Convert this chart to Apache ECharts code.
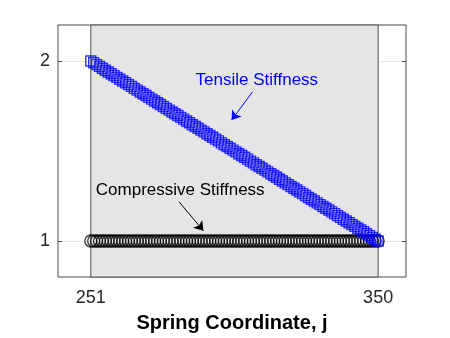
<!DOCTYPE html>
<html>
<head>
<meta charset="utf-8">
<script src="https://cdn.jsdelivr.net/npm/echarts@6/dist/echarts.min.js"></script>
<style>
  html, body { margin: 0; padding: 0; background: #fff; }
  #chart { width: 450px; height: 338px; }
</style>
</head>
<body>
<div id="chart"></div>
<script>
// spring coordinate j
const springIndex = [
  251,252,253,254,255,256,257,258,259,260,261,262,263,264,265,266,267,268,269,270,
  271,272,273,274,275,276,277,278,279,280,281,282,283,284,285,286,287,288,289,290,
  291,292,293,294,295,296,297,298,299,300,301,302,303,304,305,306,307,308,309,310,
  311,312,313,314,315,316,317,318,319,320,321,322,323,324,325,326,327,328,329,330,
  331,332,333,334,335,336,337,338,339,340,341,342,343,344,345,346,347,348,349,350
];
const tensile = [
  2.000,1.990,1.980,1.970,1.960,1.949,1.939,1.929,1.919,1.909,
  1.899,1.889,1.879,1.869,1.859,1.848,1.838,1.828,1.818,1.808,
  1.798,1.788,1.778,1.768,1.758,1.747,1.737,1.727,1.717,1.707,
  1.697,1.687,1.677,1.667,1.657,1.646,1.636,1.626,1.616,1.606,
  1.596,1.586,1.576,1.566,1.556,1.545,1.535,1.525,1.515,1.505,
  1.495,1.485,1.475,1.465,1.455,1.444,1.434,1.424,1.414,1.404,
  1.394,1.384,1.374,1.364,1.354,1.343,1.333,1.323,1.313,1.303,
  1.293,1.283,1.273,1.263,1.253,1.242,1.232,1.222,1.212,1.202,
  1.192,1.182,1.172,1.162,1.152,1.141,1.131,1.121,1.111,1.101,
  1.091,1.081,1.071,1.061,1.051,1.040,1.030,1.020,1.010,1.000
];
const compressive = [
  1,1,1,1,1,1,1,1,1,1,1,1,1,1,1,1,1,1,1,1,
  1,1,1,1,1,1,1,1,1,1,1,1,1,1,1,1,1,1,1,1,
  1,1,1,1,1,1,1,1,1,1,1,1,1,1,1,1,1,1,1,1,
  1,1,1,1,1,1,1,1,1,1,1,1,1,1,1,1,1,1,1,1,
  1,1,1,1,1,1,1,1,1,1,1,1,1,1,1,1,1,1,1,1
];
const xTicks = [251, 350];
const yTicks = [1, 2];

const pair = (ys) => springIndex.map((x, i) => [x, ys[i]]);

const chart = echarts.init(document.getElementById('chart'));
const font = 'Liberation Sans, Arial, sans-serif';

chart.setOption({
  animation: false,
  grid: {
    left: 58, right: 44, top: 25, bottom: 61,
    containLabel: false, outerBoundsMode: 'none',
    show: true, borderColor: '#4d4d4d', borderWidth: 1, backgroundColor: '#fff'
  },
  xAxis: {
    type: 'value', min: 239.7, max: 359.6,
    name: 'Spring Coordinate, j', nameLocation: 'middle', nameGap: 36,
    nameTextStyle: { fontFamily: font, fontSize: 20, fontWeight: 'bold', color: '#000' },
    axisLine: { show: false },
    axisTick: { show: false },
    splitLine: { show: false },
    axisLabel: { customValues: xTicks, fontFamily: font, fontSize: 18, color: '#262626', margin: 12 }
  },
  yAxis: [{
    type: 'value', min: 0.8, max: 2.2,
    axisLine: { show: false },
    axisTick: { show: true, inside: true, length: 4, customValues: yTicks, lineStyle: { color: '#4d4d4d' } },
    splitLine: { show: true, lineStyle: { color: '#e8e8e8', width: 1 } },
    axisLabel: { customValues: yTicks, fontFamily: font, fontSize: 18, color: '#262626', margin: 8 }
  }, {
    type: 'value', min: 0.8, max: 2.2, position: 'right',
    axisLine: { show: false },
    axisTick: { show: true, inside: true, length: 4, customValues: yTicks, lineStyle: { color: '#4d4d4d' } },
    splitLine: { show: false },
    axisLabel: { show: false }
  }],
  series: [{
    name: 'Compressive Stiffness',
    type: 'scatter',
    data: pair(compressive),
    symbol: 'circle', symbolSize: 12,
    itemStyle: { color: 'transparent', borderColor: '#000', borderWidth: 1.3 },
    markArea: {
      silent: true,
      itemStyle: { color: '#e5e5e5', borderColor: '#505050', borderWidth: 1 },
      data: [[{ xAxis: 251 }, { xAxis: 350 }]]
    },
    markLine: {
      silent: true, symbol: ['none', 'arrow'], symbolSize: 9,
      label: { show: false },
      lineStyle: { color: '#000', width: 1, type: 'solid' },
      data: [[{ coord: [281.4, 1.218] }, { coord: [289.8, 1.057] }]]
    }
  }, {
    name: 'Tensile Stiffness',
    type: 'scatter',
    data: pair(tensile),
    symbol: 'rect', symbolSize: 10,
    itemStyle: { color: 'transparent', borderColor: '#0000ff', borderWidth: 1.4 },
    markLine: {
      silent: true, symbol: ['none', 'arrow'], symbolSize: 9,
      label: { show: false },
      lineStyle: { color: '#0000ff', width: 1, type: 'solid' },
      data: [[{ coord: [306.7, 1.828] }, { coord: [299.5, 1.672] }]]
    }
  }]
});

const notes = [
  { text: 'Tensile Stiffness', at: [308.2, 1.894], color: '#0000ff' },
  { text: 'Compressive Stiffness', at: [281.8, 1.279], color: '#000' }
];
chart.setOption({
  graphic: notes.map(n => {
    const p = chart.convertToPixel({ gridIndex: 0 }, n.at);
    return {
      type: 'text', x: p[0], y: p[1], z: 100,
      style: { text: n.text, fill: n.color, font: '17px ' + font, align: 'center', verticalAlign: 'middle' }
    };
  })
});
</script>
</body>
</html>
